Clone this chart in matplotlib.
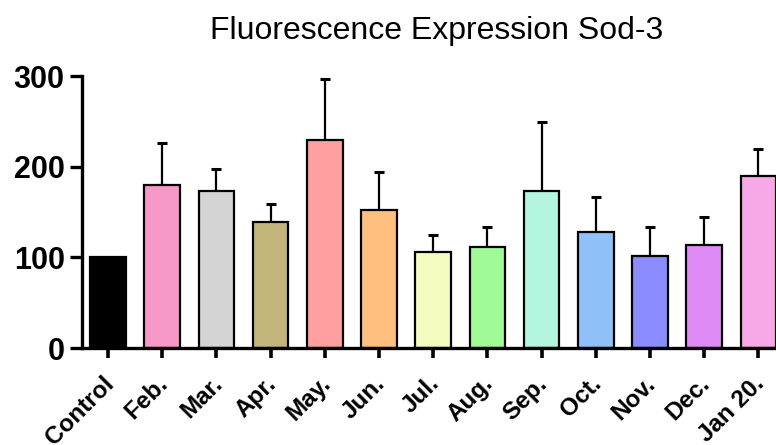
import matplotlib.pyplot as plt
import matplotlib.transforms as mtransforms
import numpy as np

# data
groups = ['Control', 'Feb.', 'Mar.', 'Apr.', 'May.', 'Jun.', 'Jul.', 'Aug.',
          'Sep.', 'Oct.', 'Nov.', 'Dec.', 'Jan 20.']
means = [100, 180, 173, 139, 229, 152, 106, 111, 173, 128, 101, 114, 190]
err_up = [0, 46, 24, 20, 68, 42, 19, 22, 76, 38, 32, 30, 29]
colors = ['#000000', '#F799C8', '#D4D4D4', '#C2B67C', '#FF9F9F', '#FFC07F',
          '#F4FCC0', '#A0FB97', '#B3F5DF', '#8FC0F8', '#8A8CFF', '#DF8BF5',
          '#F6A9E6']
yticks = [0, 100, 200, 300]

plt.rcParams['font.family'] = ['Liberation Sans', 'DejaVu Sans']

fig = plt.figure(figsize=(7.76, 4.45), dpi=100)
ax = fig.add_axes([82 / 776, 1 - 348 / 445, 710 / 776, 272 / 445])

x = np.arange(len(groups))
ax.bar(x, means, width=0.66, color=colors, edgecolor='black', linewidth=1.6, zorder=2)

# only the groups that have an error bar (control is the reference, no spread)
m = np.array(err_up) > 0
ax.errorbar(x[m], np.array(means)[m], yerr=[np.zeros(m.sum()), np.array(err_up)[m]],
            fmt='none', ecolor='black', elinewidth=1.6, capsize=3.8, capthick=2.2, zorder=1)

ax.set_xlim(-0.48, 12.62)
ax.set_ylim(0, 300)
ax.set_yticks(yticks, labels=[str(v) for v in yticks], fontsize=22, fontweight='bold')
ax.set_xticks(x, labels=[''] * len(groups))

# slanted group labels, placed under each tick and nudged down-left
lab_tr = ax.get_xaxis_transform() + mtransforms.ScaledTranslation(-0.06, -0.24, fig.dpi_scale_trans)
for xi, g in zip(x, groups):
    ax.text(xi, 0, g, transform=lab_tr, rotation=45, ha='right', va='top',
            rotation_mode='anchor', fontsize=17.5, fontweight='bold', clip_on=False)

ax.spines['top'].set_visible(False)
ax.spines['right'].set_visible(False)
ax.spines['left'].set_linewidth(2.4)
ax.spines['bottom'].set_linewidth(2.4)
ax.tick_params(axis='y', length=8.5, width=2.4, pad=4)
ax.tick_params(axis='x', length=7.5, width=2.6, pad=5)

ax.set_title('Fluorescence Expression Sod-3', fontsize=23, pad=27)

fig.savefig('out.png', dpi=100)
